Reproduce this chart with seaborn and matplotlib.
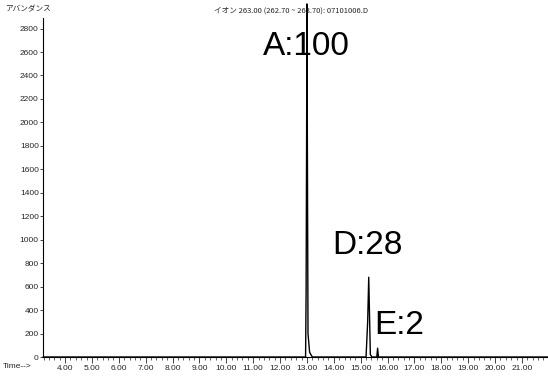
import matplotlib
matplotlib.use("Agg")
import matplotlib.pyplot as plt
import seaborn as sns
import pandas as pd
from matplotlib.ticker import MultipleLocator, FormatStrFormatter

sns.set_theme(style="white")
plt.rcParams['font.family'] = ['Liberation Sans', 'Noto Sans CJK JP', 'DejaVu Sans']

# Chromatogram trace (time in min, abundance)
time_min = [3.18, 12.90, 12.95, 12.97, 12.99, 13.00, 13.04, 13.10, 13.20, 15.20,
            15.26, 15.30, 15.36, 15.42, 15.60, 15.63, 15.66, 15.70, 21.97]
abundance = [0, 0, 0, 560, 2000, 3010, 200, 40, 0, 0,
             300, 680, 20, 0, 0, 75, 0, 0, 0]

peak_labels = ["A:100", "D:28", "E:2"]
label_time = [11.36, 13.96, 15.52]
label_abund = [2573, 880, 197]

title = "イオン 263.00 (262.70 ~ 263.70): 07101006.D"
ylabel = "アバンダンス"
xlabel = "Time-->"

df = pd.DataFrame({"time": time_min, "abundance": abundance})

fig = plt.figure(figsize=(5.48, 3.76), dpi=100)
ax = fig.add_axes([43/548, 19/376, 1 - 43/548, (357-18)/376])
sns.lineplot(data=df, x="time", y="abundance", ax=ax, color="black",
             linewidth=1.0, sort=False, estimator=None, clip_on=False)

ax.set_xlim(3.18, 21.97)
ax.set_ylim(0, 2890)
ax.xaxis.set_major_locator(MultipleLocator(1.0))
ax.xaxis.set_minor_locator(MultipleLocator(0.2))
ax.xaxis.set_major_formatter(FormatStrFormatter("%.2f"))
ax.yaxis.set_major_locator(MultipleLocator(200))
ax.tick_params(axis="x", which="major", direction="out", length=4, width=0.6,
               labelsize=6, pad=2, bottom=True)
ax.tick_params(axis="x", which="minor", direction="out", length=2, width=0.5, bottom=True)
ax.tick_params(axis="y", which="major", direction="out", length=2, width=0.6,
               labelsize=6, pad=1, left=True)
ax.set_xlabel("")
ax.set_ylabel("")
for s in ["top", "right"]:
    ax.spines[s].set_visible(False)
for s in ["left", "bottom"]:
    ax.spines[s].set_color("black")
    ax.spines[s].set_linewidth(0.8)
ax.grid(False)

xt = ax.get_xticks()
ax.set_xticks([t for t in xt if 4 <= t <= 21])

for lab, tx, ty in zip(peak_labels, label_time, label_abund):
    ax.text(tx, ty, lab, fontsize=24, color="black", ha="left", va="baseline",
            family=['Liberation Sans', 'DejaVu Sans'])

fig.text(291/548, 1 - 11/376, title, fontsize=5.5, ha="center", va="center",
         family=['Noto Sans CJK JP', 'DejaVu Sans'])
fig.text(5/548, 1 - 9/376, ylabel, fontsize=5.5, ha="left", va="center",
         family=['Noto Sans CJK JP', 'DejaVu Sans'])
fig.text(3/548, 1 - 367/376, xlabel, fontsize=6, ha="left", va="center")

fig.savefig("out.png", dpi=100)
